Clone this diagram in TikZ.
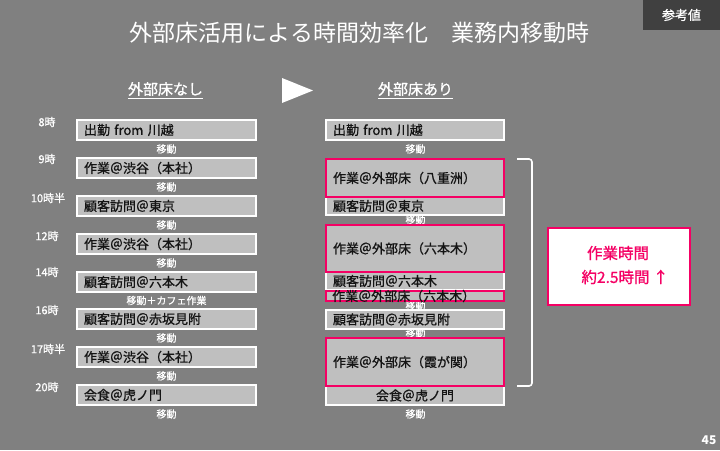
\documentclass[tikz,border=0pt]{standalone}
\usepackage{fontspec}
\setmainfont{Noto Sans CJK JP}
\newfontfamily\medfont{Noto Sans CJK JP}[FakeBold=0.9]
\definecolor{bggray}{RGB}{128,128,128}
\definecolor{boxgray}{RGB}{191,191,191}
\definecolor{badgegray}{RGB}{64,64,64}
\definecolor{accent}{RGB}{245,0,100}
\definecolor{textdark}{RGB}{20,20,20}
\newcommand\fsz[1]{\fontsize{#1pt}{#1pt}\selectfont}
\tikzset{
  slot/.style={draw=white, line width=1.1pt, fill=boxgray, minimum width=179pt, minimum height=20pt,
    text width=165pt, inner xsep=7pt, inner ysep=0pt, align=left, text=textdark, font=\medfont\fsz{13}},
  rslot/.style={slot, minimum width=178pt, text width=164pt},
  redslot/.style={rslot, draw=accent, line width=2pt},
  movelbl/.style={text=white, font=\medfont\fsz{10}, inner sep=0pt},
  hourlbl/.style={text=white, font=\medfont\fsz{11}, inner sep=0pt},
  boxtxt/.style={text=textdark, font=\medfont\fsz{13}, inner sep=0pt, anchor=west},
  head/.style={text=white, font=\medfont\fsz{15}, inner xsep=0pt, inner ysep=2pt},
  restxt/.style={text=accent, font=\medfont\fsz{15.5}, inner sep=0pt},
}
\begin{document}
\begin{tikzpicture}[x=1pt,y=-1pt]
\useasboundingbox (0,0) rectangle (720,450);
\fill[bggray] (0,0) rectangle (720,450);

% badge
\node[fill=badgegray, minimum width=77pt, minimum height=30pt, inner sep=0pt, text=white, font=\medfont\fsz{13}] (badge) at (681.5,15) {参考値};

% title
\node[text=white, font=\fsz{23}, inner sep=0pt] (title) at (359.5,33) {外部床活用による時間効率化　業務内移動時};

% headers
\node[head] (h1) at (165.5,89) {外部床なし};
\draw[white, line width=0.9pt] (h1.south west) -- (h1.south east);
\node[head] (h2) at (415.5,89) {外部床あり};
\draw[white, line width=0.9pt] (h2.south west) -- (h2.south east);
\coordinate (t1) at (282,78);
\coordinate (t2) at (282,103);
\coordinate (t3) at (313,90.5);
\fill[white] (t1) -- (t3) -- (t2) -- cycle;

% hour labels
\node[hourlbl] (k1) at (47,122) {8時};
\node[hourlbl] (k2) at (47,159) {9時};
\node[hourlbl] (k3) at (48,198) {10時半};
\node[hourlbl] (k4) at (47,236) {12時};
\node[hourlbl] (k5) at (47,272) {14時};
\node[hourlbl] (k6) at (47,310) {16時};
\node[hourlbl] (k7) at (48,349) {17時半};
\node[hourlbl] (k8) at (47,387) {20時};

% move labels left
\node[movelbl] (m1) at (166.5,149) {移動};
\node[movelbl] (m2) at (166.5,187) {移動};
\node[movelbl] (m3) at (166.5,225) {移動};
\node[movelbl] (m4) at (166.5,263) {移動};
\node[movelbl] (m5) at (166.5,300.5) {移動＋カフェ作業};
\node[movelbl] (m6) at (166.5,338) {移動};
\node[movelbl] (m7) at (166.5,376) {移動};
\node[movelbl] (m8) at (166.5,414) {移動};

% move labels right
\node[movelbl] (n1) at (415.5,149) {移動};
\node[movelbl] (n2) at (415.5,219.5) {移動};
\node[movelbl] (n3) at (415.5,305.5) {移動};
\node[movelbl] (n4) at (415.5,333) {移動};
\node[movelbl] (n5) at (415.5,414) {移動};

% left boxes
\node[slot] (L1) at (166.5,130) {出勤 from 川越};
\node[slot] (L2) at (166.5,168) {作業＠渋谷（本社）};
\node[slot] (L3) at (166.5,206) {顧客訪問＠東京};
\node[slot] (L4) at (166.5,244) {作業＠渋谷（本社）};
\node[slot] (L5) at (166.5,282) {顧客訪問＠六本木};
\node[slot] (L6) at (166.5,319) {顧客訪問＠赤坂見附};
\node[slot] (L7) at (166.5,357) {作業＠渋谷（本社）};
\node[slot] (L8) at (166.5,395) {会食＠虎ノ門};

% right boxes
\node[rslot] (R1) at (415,130) {出勤 from 川越};
\node[rslot, minimum height=18pt] (R3) at (415,206) {顧客訪問＠東京};
\node[redslot, minimum height=38pt] (R2) at (415,178) {作業＠外部床（八重洲）};
\node[rslot, minimum height=18pt] (R5) at (415,281) {顧客訪問＠六本木};
\node[redslot, minimum height=47pt] (R4) at (415,248.5) {作業＠外部床（六本木）};
\node[draw=accent, line width=2pt, fill=boxgray, minimum width=178pt, minimum height=10pt, inner sep=0pt] (R6) at (415,296) {};
\node[boxtxt] (R6t) at ([xshift=7pt]R6.west) {作業＠外部床（六本木）};
\node[rslot, minimum height=19pt] (R7) at (415,319.5) {顧客訪問＠赤坂見附};
\node[rslot, minimum height=19pt, align=center] (R9) at (415,395.5) {会食＠虎ノ門};
\node[redslot, minimum height=48pt] (R8) at (415,362) {作業＠外部床（霞が関）};

% bracket
\coordinate (b1) at (517,159);
\coordinate (b2) at (532,159);
\coordinate (b3) at (532,386);
\coordinate (b4) at (517,386);
\draw[white, line width=1.6pt, rounded corners=3pt] (b1) -- (b2) -- (b3) -- (b4);

% result box
\node[draw=accent, line width=2.5pt, fill=white, minimum width=142pt, minimum height=77pt, inner sep=0pt] (P) at (619,266.5) {};
\node[restxt] (P1) at (618,253) {作業時間};
\node[restxt] (P2) at (625,277) {約2.5時間 ↑};

% page number
\node[text=white, font=\fsz{12}\bfseries, inner sep=0pt] (pg) at (709,440) {45};
\end{tikzpicture}
\end{document}
